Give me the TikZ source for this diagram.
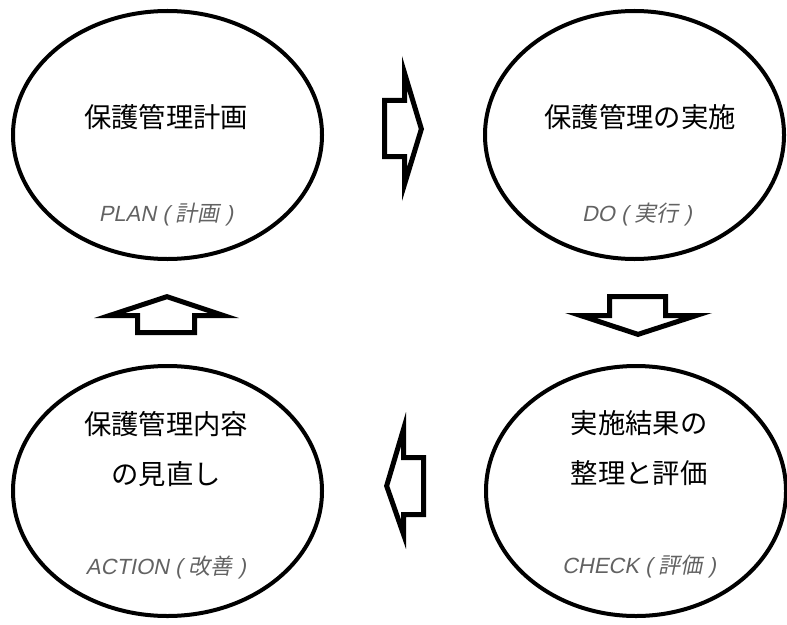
\documentclass[tikz,border=0pt]{standalone}
\usepackage{fontspec}
\usetikzlibrary{shapes.geometric}
\newfontfamily\jpfont{Noto Sans CJK JP}
\newfontfamily\jpslant[FakeSlant=0.2]{Noto Sans CJK JP}
\newfontfamily\tagslant[FakeSlant=0.2]{Liberation Sans}
\definecolor{taggray}{HTML}{626262}
\tikzset{
  phase/.style={draw, ellipse, line width=3pt, inner sep=0pt},
  phasetext/.style={font=\jpfont\fontsize{20.5}{37.5}\selectfont, align=center, inner sep=0pt},
  phasetag/.style={font=\tagslant\fontsize{16.5}{20}\selectfont, text=taggray, inner sep=0pt},
  flowarrow/.style={line width=7.5pt, line join=miter, miter limit=20},
}
% hollow block arrow, stroke kept inside the outline
\newcommand{\flowshape}[1]{\begin{scope}\clip #1 -- cycle; \draw[flowarrow] #1 -- cycle;\end{scope}}
% english tag with japanese gloss
\newcommand{\tagline}[2]{#1 ( {\jpslant #2} )}
\begin{document}
\begin{tikzpicture}[x=0.75pt, y=-0.75pt]
    \useasboundingbox (0,0) rectangle (787,624);
    \node[phase, minimum width=231.75pt, minimum height=186pt] (plan) at (167.5,135) {};
    \node[phase, minimum width=224.25pt, minimum height=186pt] (exec) at (634.5,135) {};
    \node[phase, minimum width=231.75pt, minimum height=187.5pt] (act) at (167.5,491) {};
    \node[phase, minimum width=225pt, minimum height=187.5pt] (check) at (636,491) {};
    \node[phasetext] (plan-t) at (166,117) {保護管理計画};
    \node[phasetag] (plan-s) at (166,215) {\tagline{PLAN}{計画}};
    \node[phasetext] (exec-t) at (640,117) {保護管理の実施};
    \node[phasetag] (exec-s) at (637,215) {\tagline{DO}{実行}};
    \node[phasetext] (act-t) at (166,449) {保護管理内容\\の見直し};
    \node[phasetag] (act-s) at (166,568) {\tagline{ACTION}{改善}};
    \node[phasetext] (check-t) at (639,448) {実施結果の\\整理と評価};
    \node[phasetag] (check-s) at (639,567) {\tagline{CHECK}{評価}};
    % PLAN -> DO
    \flowshape{(382,98) -- (402,98) -- (402,56) -- (424,129) -- (402,201) -- (402,159) -- (382,159)}
    % DO -> CHECK
    \flowshape{(607,294) -- (668,294) -- (668,313) -- (712,313) -- (638,337) -- (565,313) -- (607,313)}
    % CHECK -> ACTION
    \flowshape{(426,455) -- (406,455) -- (406,412) -- (384,486) -- (406,549) -- (406,517) -- (426,517)}
    % ACTION -> PLAN
    \flowshape{(135,335) -- (135,318) -- (94,318) -- (167,294) -- (239,318) -- (197,318) -- (197,335)}
  \end{tikzpicture}
\end{document}
